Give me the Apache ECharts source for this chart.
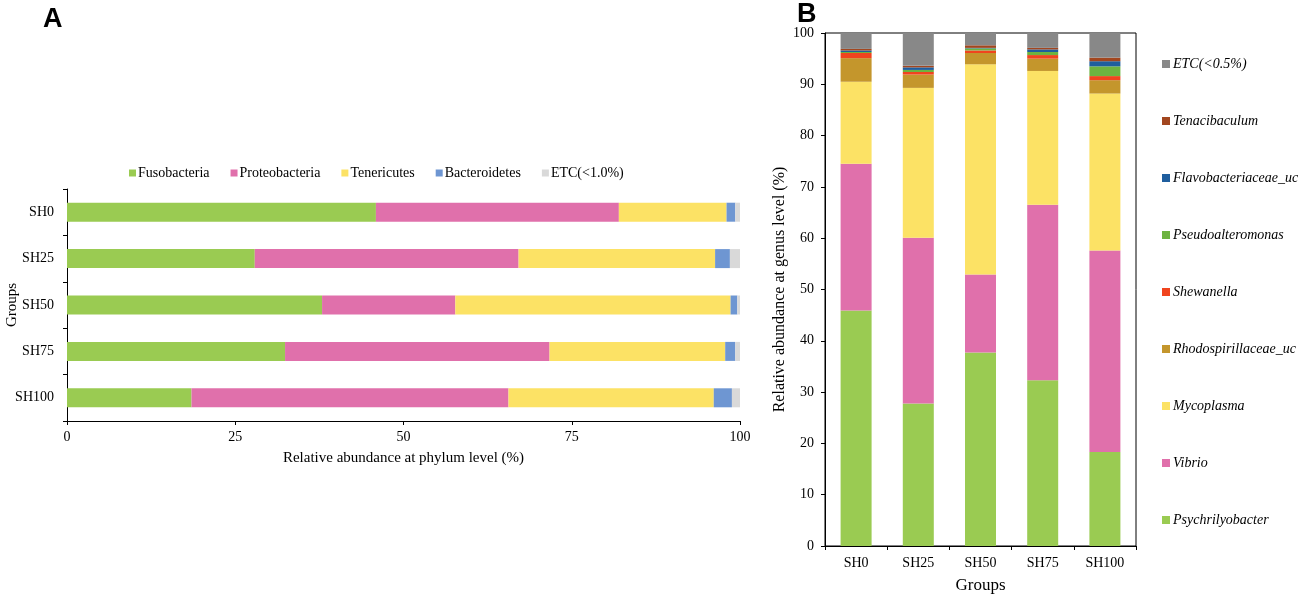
<!DOCTYPE html>
<html>
<head>
<meta charset="utf-8">
<script src="https://cdn.jsdelivr.net/npm/echarts@6/dist/echarts.min.js"></script>
<style>
html,body{margin:0;padding:0;background:#fff;}
#c{width:1299px;height:595px;}
</style>
</head>
<body>
<div id="c"></div>
<script>
// ---- Data ----
var groups = ['SH0', 'SH25', 'SH50', 'SH75', 'SH100'];

// Panel A: phylum level (%)
var phylumNames = ['Fusobacteria', 'Proteobacteria', 'Tenericutes', 'Bacteroidetes', 'ETC(<1.0%)'];
var fusobacteria   = [45.9, 27.9, 37.9, 32.4, 18.5];
var proteobacteria = [36.1, 39.2, 19.8, 39.3, 47.1];
var tenericutes    = [16.0, 29.2, 40.9, 26.1, 30.5];
var bacteroidetes  = [1.3, 2.2, 1.0, 1.5, 2.7];
var etcPhylum      = [0.7, 1.5, 0.4, 0.7, 1.2];

// Panel B: genus level (%) (bottom to top of stack)
var genusNames = ['Psychrilyobacter', 'Vibrio', 'Mycoplasma', 'Rhodospirillaceae_uc', 'Shewanella',
                  'Pseudoalteromonas', 'Flavobacteriaceae_uc', 'Tenacibaculum', 'ETC(<0.5%)'];
var psychrilyobacter   = [45.9, 27.8, 37.7, 32.3, 18.3];
var vibrio             = [28.6, 32.3, 15.2, 34.2, 39.3];
var mycoplasma         = [16.0, 29.2, 41.0, 26.1, 30.6];
var rhodospirillaceae  = [4.6, 2.6, 2.2, 2.4, 2.6];
var shewanella         = [1.0, 0.5, 0.5, 0.7, 0.8];
var pseudoalteromonas  = [0.2, 0.4, 0.4, 0.6, 1.9];
var flavobacteriaceae  = [0.3, 0.5, 0.1, 0.5, 1.0];
var tenacibaculum      = [0.3, 0.3, 0.5, 0.3, 0.7];
var etcGenus           = [3.1, 6.4, 2.4, 2.9, 4.8];

var xTicksA = [0, 25, 50, 75, 100];

// ---- Styles ----
var phylumColors = ['#9ACB52', '#E070AB', '#FCE265', '#6E96D2', '#D9D9D9'];
var genusColors = ['#9ACB52', '#E070AB', '#FCE265', '#C4962C', '#F0441E', '#6DB340', '#1F5E9E', '#A2461F', '#888888'];
var serif = '"Liberation Serif", "DejaVu Serif", serif';

var phylumData = [fusobacteria, proteobacteria, tenericutes, bacteroidetes, etcPhylum];
var genusData = [psychrilyobacter, vibrio, mycoplasma, rhodospirillaceae, shewanella,
                 pseudoalteromonas, flavobacteriaceae, tenacibaculum, etcGenus];

var series = [];
phylumNames.forEach(function (n, i) {
  series.push({
    name: n, type: 'bar', stack: 'A', xAxisIndex: 0, yAxisIndex: 0,
    barWidth: 19, data: phylumData[i],
    itemStyle: { color: phylumColors[i] }
  });
});
genusNames.forEach(function (n, i) {
  series.push({
    name: n, type: 'bar', stack: 'B', xAxisIndex: 1, yAxisIndex: 1,
    barWidth: 31, data: genusData[i],
    itemStyle: { color: genusColors[i] }
  });
});

var axisLine = { show: true, lineStyle: { color: '#000', width: 1 } };
var axisTick = { show: true, inside: false, length: 4, lineStyle: { color: '#000' } };
var labelStyle = { color: '#000', fontFamily: serif, fontSize: 14 };

var chart = echarts.init(document.getElementById('c'), null, { renderer: 'canvas' });
chart.setOption({
  animation: false,
  backgroundColor: '#fff',
  textStyle: { fontFamily: serif },
  graphic: [
    { type: 'text', left: 43, top: 6, style: { text: 'A', font: 'bold 27px "Liberation Sans", Arial, sans-serif', fill: '#000' } },
    { type: 'text', left: 797, top: 1, style: { text: 'B', font: 'bold 27px "Liberation Sans", Arial, sans-serif', fill: '#000' } }
  ],
  legend: [
    {
      data: phylumNames, orient: 'horizontal', left: 129, top: 166, padding: 0,
      icon: 'rect', itemWidth: 7, itemHeight: 7, itemGap: 21,
      textStyle: { color: '#000', fontFamily: serif, fontSize: 14, padding: [0, 0, 0, -3] },
      selectedMode: false
    },
    {
      data: genusNames.slice().reverse(), orient: 'vertical', left: 1162, top: 57, padding: 0,
      icon: 'rect', itemWidth: 8, itemHeight: 8, itemGap: 43,
      textStyle: { color: '#000', fontFamily: serif, fontSize: 14, fontStyle: 'italic', padding: [0, 0, 0, -2] },
      selectedMode: false
    }
  ],
  grid: [
    { left: 67, top: 189, width: 673, height: 232, containLabel: false, outerBoundsMode: 'none' },
    { left: 825, top: 33, width: 311, height: 513, containLabel: false, outerBoundsMode: 'none',
      show: true, borderColor: '#000', borderWidth: 1, backgroundColor: 'transparent' }
  ],
  xAxis: [
    {
      gridIndex: 0, type: 'value', min: 0, max: 100, interval: 25,
      axisLine: axisLine, axisTick: axisTick, splitLine: { show: false },
      axisLabel: Object.assign({ margin: 9, formatter: function (v) { return xTicksA.indexOf(v) >= 0 ? String(v) : ''; } }, labelStyle),
      name: 'Relative abundance at phylum level (%)', nameLocation: 'middle', nameGap: 30, nameMoveOverlap: false,
      nameTextStyle: { color: '#000', fontFamily: serif, fontSize: 15 }
    },
    {
      gridIndex: 1, type: 'category', data: groups,
      axisLine: axisLine, axisTick: Object.assign({ alignWithLabel: false }, axisTick),
      axisLabel: Object.assign({ margin: 10 }, labelStyle),
      name: 'Groups', nameLocation: 'middle', nameGap: 31, nameMoveOverlap: false,
      nameTextStyle: { color: '#000', fontFamily: serif, fontSize: 17 }
    }
  ],
  yAxis: [
    {
      gridIndex: 0, type: 'category', data: groups, inverse: true,
      axisLine: axisLine, axisTick: axisTick,
      axisLabel: Object.assign({ margin: 13 }, labelStyle),
      name: 'Groups', nameLocation: 'middle', nameGap: 47, nameRotate: 90, nameMoveOverlap: false,
      nameTextStyle: { color: '#000', fontFamily: serif, fontSize: 15 }
    },
    {
      gridIndex: 1, type: 'value', min: 0, max: 100, interval: 10,
      axisLine: axisLine, axisTick: axisTick, splitLine: { show: false },
      axisLabel: Object.assign({ margin: 11 }, labelStyle),
      name: 'Relative abundance at genus level (%)', nameLocation: 'middle', nameGap: 37, nameRotate: 90, nameMoveOverlap: false,
      nameTextStyle: { color: '#000', fontFamily: serif, fontSize: 16 }
    }
  ],
  series: series
});
</script>
</body>
</html>
